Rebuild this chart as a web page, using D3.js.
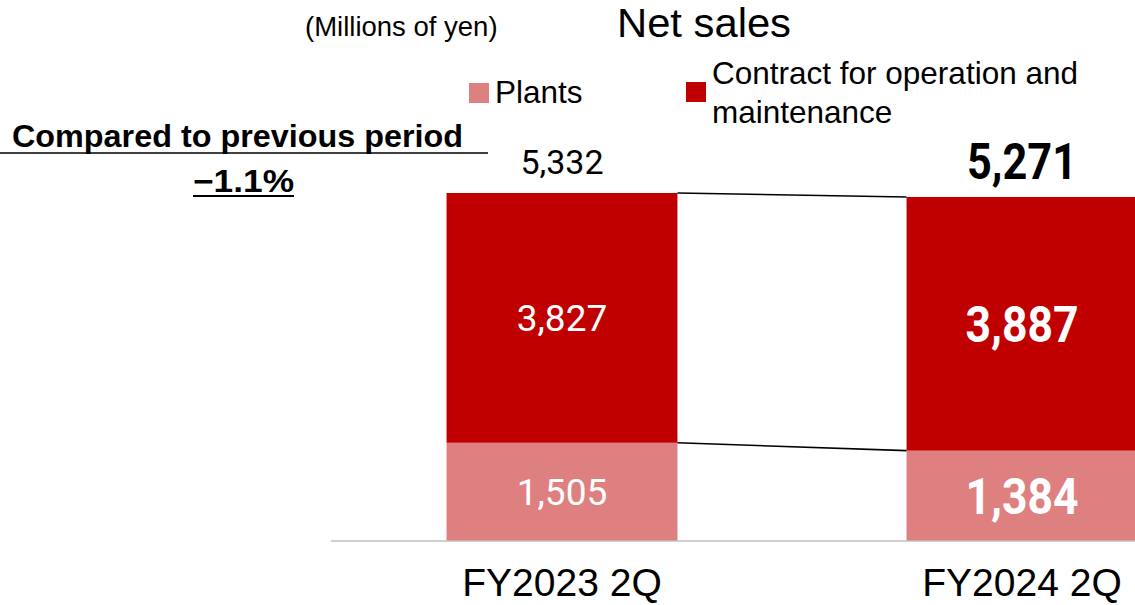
<!DOCTYPE html>
<html lang="en">
<head>
	<meta charset="UTF-8">
	<title>Net sales</title>
	<style>
		html, body {
			margin: 0;
			background: #fff;
			font-family: 'Liberation Sans', Arial, sans-serif;
		}
		svg text.num {
			font-family: Roboto, 'Liberation Sans', sans-serif;
		}
	</style>
	<script src="https://cdnjs.cloudflare.com/ajax/libs/d3/7.8.5/d3.min.js"></script>
</head>
<body>
	<svg id="container"></svg>
	<script>
		// chart data
		const categories = ['FY2023 2Q', 'FY2024 2Q'];
		const seriesKeys = ['plants', 'contract'];
		const seriesNames = ['Plants', 'Contract for operation and maintenance'];
		const plantsValues = [1505, 1384];
		const contractValues = [3827, 3887];
		const totalValues = [5332, 5271];
		const changeLabel = 'Compared to previous period';
		const changeValue = '\u22121.1%';
		const unitLabel = '(Millions of yen)';
		const title = 'Net sales';

		const config = {
			width: 1135,
			height: 605,
			baseline: 541,
			colors: { plants: '#DF8080', contract: '#C00000' },
		};

		const rows = categories.map((c, i) => ({
			category: c,
			plants: plantsValues[i],
			contract: contractValues[i],
			total: totalValues[i],
		}));

		const svg = d3.select('#container')
			.attr('width', config.width)
			.attr('height', config.height);

		const x = d3.scaleBand()
			.domain(categories)
			.range([332, 1252])
			.paddingInner(0.498)
			.paddingOuter(0.249);

		const y = d3.scaleLinear()
			.domain([0, 6000])
			.range([config.baseline, config.baseline - 6000 * 0.065265]);

		const stacked = d3.stack().keys(seriesKeys)(rows);
		const fmt = d3.format(',');

		// bars
		svg.append('g')
			.selectAll('g')
			.data(stacked)
			.join('g')
			.attr('fill', d => config.colors[d.key])
			.selectAll('rect')
			.data(d => d)
			.join('rect')
			.attr('x', d => x(d.data.category))
			.attr('y', d => y(d[1]))
			.attr('width', x.bandwidth())
			.attr('height', d => y(d[0]) - y(d[1]));

		// connector lines between the two bars
		stacked.forEach(s => {
			svg.append('line')
				.attr('x1', x(categories[0]) + x.bandwidth())
				.attr('y1', y(s[0][1]))
				.attr('x2', x(categories[1]))
				.attr('y2', y(s[1][1]))
				.attr('stroke', '#000')
				.attr('stroke-width', 1.6);
		});

		// baseline
		svg.append('line')
			.attr('x1', 331).attr('x2', config.width)
			.attr('y1', config.baseline).attr('y2', config.baseline)
			.attr('stroke', '#bfbfbf')
			.attr('stroke-width', 1.5);

		// segment labels (latest period drawn bigger and bold)
		const isLatest = i => i === categories.length - 1;
		stacked.forEach(s => {
			s.forEach((d, i) => {
				const label = svg.append('text')
					.attr('class', 'num')
					.attr('x', x(d.data.category) + x.bandwidth() / 2)
					.attr('y', (y(d[0]) + y(d[1])) / 2)
					.attr('dy', '0.36em')
					.attr('text-anchor', 'middle')
					.attr('fill', '#fff')
					.attr('font-size', isLatest(i) ? 50 : 37)
					.attr('font-weight', isLatest(i) ? 700 : 400)
					.text(fmt(d[1] - d[0]));
				if (isLatest(i)) label.attr('textLength', 113).attr('lengthAdjust', 'spacingAndGlyphs');
			});
		});

		// totals above bars
		rows.forEach((d, i) => {
			const label = svg.append('text')
				.attr('class', 'num')
				.attr('x', x(d.category) + x.bandwidth() / 2)
				.attr('y', y(d.total) - (isLatest(i) ? 18 : 19))
				.attr('text-anchor', 'middle')
				.attr('fill', '#000')
				.attr('font-size', isLatest(i) ? 50 : 34)
				.attr('font-weight', isLatest(i) ? 700 : 400)
				.text(fmt(d.total));
			if (isLatest(i)) label.attr('textLength', 110).attr('lengthAdjust', 'spacingAndGlyphs');
		});

		// category labels
		svg.append('g')
			.selectAll('text')
			.data(categories)
			.join('text')
			.attr('x', d => x(d) + x.bandwidth() / 2)
			.attr('y', 596)
			.attr('text-anchor', 'middle')
			.attr('font-size', 39)
			.attr('fill', '#000')
			.text(d => d);

		// title + unit
		svg.append('text')
			.attr('x', 617).attr('y', 37)
			.attr('font-size', 40)
			.attr('textLength', 174)
			.attr('lengthAdjust', 'spacingAndGlyphs')
			.text(title);
		svg.append('text')
			.attr('x', 305).attr('y', 36)
			.attr('font-size', 27.5)
			.text(unitLabel);

		// legend
		const legend = [
			{ key: 'plants', x: 469, y: 83, lines: [seriesNames[0]], ty: 103 },
			{ key: 'contract', x: 686, y: 82, lines: ['Contract for operation and', 'maintenance'], ty: 84 },
		];
		legend.forEach(l => {
			svg.append('rect')
				.attr('x', l.x).attr('y', l.y)
				.attr('width', 20).attr('height', 20)
				.attr('fill', config.colors[l.key]);
			const t = svg.append('text')
				.attr('y', l.ty)
				.attr('font-size', 31.5);
			l.lines.forEach((line, i) => {
				t.append('tspan')
					.attr('x', l.x + 26)
					.attr('dy', i === 0 ? 0 : 39)
					.text(line);
			});
		});

		// change vs previous period
		svg.append('text')
			.attr('x', 12).attr('y', 147)
			.attr('font-size', 31)
			.attr('font-weight', 700)
			.attr('textLength', 451)
			.attr('lengthAdjust', 'spacingAndGlyphs')
			.text(changeLabel);
		svg.append('line')
			.attr('x1', 0).attr('x2', 488)
			.attr('y1', 153).attr('y2', 153)
			.attr('stroke', '#000').attr('stroke-width', 1.5);
		svg.append('text')
			.attr('x', 193).attr('y', 192)
			.attr('font-size', 31)
			.attr('font-weight', 700)
			.attr('textLength', 101)
			.attr('lengthAdjust', 'spacingAndGlyphs')
			.text(changeValue);
		svg.append('line')
			.attr('x1', 193).attr('x2', 294)
			.attr('y1', 196).attr('y2', 196)
			.attr('stroke', '#000').attr('stroke-width', 2);
	</script>
</body>
</html>
